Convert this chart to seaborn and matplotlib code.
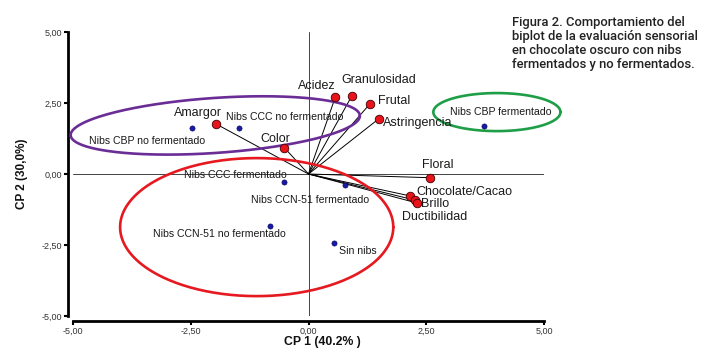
import numpy as np
import matplotlib.pyplot as plt
import seaborn as sns
import pandas as pd

# muestras (puntos azules)
muestras = ['Nibs CBP no fermentado', 'Nibs CCC no fermentado', 'Nibs CBP fermentado',
            'Nibs CCC fermentado', 'Nibs CCN-51 fermentado', 'Nibs CCN-51 no fermentado', 'Sin nibs']
cp1_muestras = [-2.47, -1.47, 3.72, -0.51, 0.77, -0.81, 0.55]
cp2_muestras = [1.62, 1.62, 1.69, -0.28, -0.39, -1.83, -2.43]

# atributos sensoriales (vectores rojos)
atributos = ['Amargor', 'Color', 'Acidez', 'Granulosidad', 'Frutal', 'Astringencia',
             'Floral', 'Chocolate/Cacao', 'Brillo', 'Ductibilidad']
cp1_atributos = [-1.96, -0.51, 0.57, 0.92, 1.30, 1.49, 2.57, 2.15, 2.26, 2.30]
cp2_atributos = [1.76, 0.92, 2.71, 2.75, 2.46, 1.94, -0.13, -0.77, -0.92, -1.02]

# grupos (elipses): centro x, centro y, semieje x, semieje y, inclinacion
grupo_centro_x = [-1.98, -1.10, 4.00]
grupo_centro_y = [1.71, -1.87, 2.18]
grupo_semi_x = [3.07, 2.90, 1.35]
grupo_semi_y = [0.97, 2.43, 0.67]
grupo_incl = [0.11, 0.0, 0.0]
grupo_color = ['#6a2d96', '#e5191f', '#1f9e48']

ticks = [-5, -2.5, 0, 2.5, 5]
tick_labels = ['-5,00', '-2,50', '0,00', '2,50', '5,00']

titulo = ('Figura 2. Comportamiento del\nbiplot de la evaluación sensorial\n'
          'en chocolate oscuro con nibs\nfermentados y no fermentados.')

# desplazamientos de las etiquetas (pixeles) y alineacion
off_muestras = [(-45, -13, 'center'), (45, 11, 'center'), (17, 14, 'center'),
                (-49, 7, 'center'), (-35, -15, 'center'), (-51, -8, 'center'), (23, -8, 'center')]
off_atributos = [(-18, 11, 'center'), (-9, 9, 'center'), (-19, 11, 'center'), (27, 16, 'center'),
                 (8, 3, 'left'), (4, -4, 'left'), (8, 13, 'center'), (7, 4, 'left'),
                 (6, -4, 'left'), (18, -14, 'center')]

sns.set_theme(style='white')
plt.rcParams['font.family'] = ['Liberation Sans', 'DejaVu Sans']

df_m = pd.DataFrame({'cp1': cp1_muestras, 'cp2': cp2_muestras, 'nombre': muestras})
df_a = pd.DataFrame({'cp1': cp1_atributos, 'cp2': cp2_atributos, 'nombre': atributos})

fig = plt.figure(figsize=(7.11, 3.63), dpi=100)
ax = fig.add_axes([73 / 711, 47 / 363, 471 / 711, 284 / 363])

ax.axhline(0, color='#444444', lw=0.7, zorder=1)
ax.axvline(0, color='#444444', lw=0.7, zorder=1)

# vectores
for x, y in zip(cp1_atributos, cp2_atributos):
    ax.plot([0, x], [0, y], color='black', lw=0.7, zorder=2)

# elipses
t = np.linspace(0, 2 * np.pi, 300)
for cx, cy, a, b, s, c in zip(grupo_centro_x, grupo_centro_y, grupo_semi_x,
                              grupo_semi_y, grupo_incl, grupo_color):
    ex = cx + a * np.cos(t)
    ey = cy + b * np.sin(t) + s * a * np.cos(t)
    ax.plot(ex, ey, color=c, lw=1.9, zorder=3, clip_on=False)

sns.scatterplot(data=df_a, x='cp1', y='cp2', ax=ax, color='#e8141c', s=38,
                edgecolor='#400000', linewidth=0.6, zorder=4, legend=False)
sns.scatterplot(data=df_m, x='cp1', y='cp2', ax=ax, color='#1a1aa8', s=14,
                edgecolor='#000050', linewidth=0.4, zorder=4, legend=False)

for nombre, x, y, (dx, dy, ha) in zip(muestras, cp1_muestras, cp2_muestras, off_muestras):
    ax.annotate(nombre, (x, y), xytext=(dx, dy), textcoords='offset pixels',
                ha=ha, va='center', fontsize=7.6, color='#1a1a1a', zorder=5)
for nombre, x, y, (dx, dy, ha) in zip(atributos, cp1_atributos, cp2_atributos, off_atributos):
    ax.annotate(nombre, (x, y), xytext=(dx, dy), textcoords='offset pixels',
                ha=ha, va='center', fontsize=9, color='#1a1a1a', zorder=5)

ax.set_xlim(-5, 5)
ax.set_ylim(-5, 5)
ax.set_xticks(ticks)
ax.set_yticks(ticks)
ax.set_xticklabels(tick_labels)
ax.set_yticklabels(tick_labels)
ax.tick_params(direction='out', length=3, width=1.5, color='black',
               labelsize=6.5, labelcolor='#333333', pad=1.5,
               bottom=True, left=True)

ax.set_xlabel('CP 1 (40.2% )', fontsize=8.8, fontweight='bold', color='#111111')
ax.set_ylabel('CP 2 (30,0%)', fontsize=8.5, fontweight='bold', color='#111111')
ax.xaxis.set_label_coords(0.529, -0.072)
ax.yaxis.set_label_coords(-0.095, 0.5)

sns.despine(ax=ax, offset=3.5, trim=True)
for sp in ['left', 'bottom']:
    ax.spines[sp].set_linewidth(2.0)
    ax.spines[sp].set_color('black')

fig.text(512 / 711, 1 - 16 / 363, titulo, ha='left', va='top', fontsize=9.4,
         fontweight=500, family=['Roboto', 'DejaVu Sans'], color='#222222',
         linespacing=1.1)

fig.savefig('out.png', dpi=100)
